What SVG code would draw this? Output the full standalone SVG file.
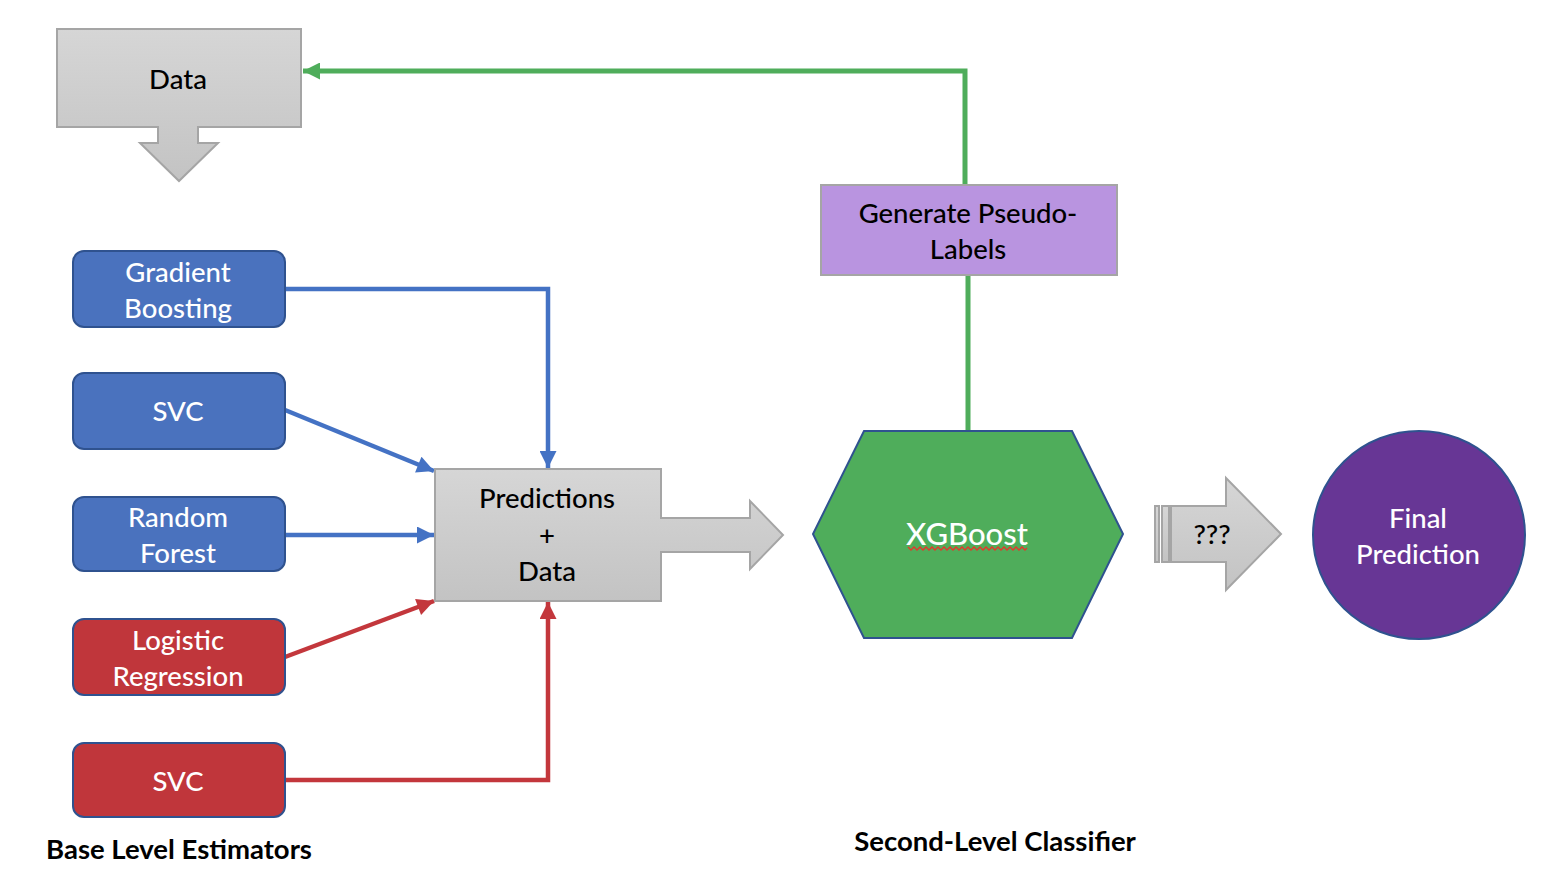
<svg xmlns="http://www.w3.org/2000/svg" width="1564" height="874" viewBox="0 0 1564 874">
<defs>
<linearGradient id="gray" x1="0" y1="0" x2="0" y2="1">
<stop offset="0" stop-color="#d6d6d6"/>
<stop offset="1" stop-color="#c3c3c3"/>
</linearGradient>
<marker id="ab" viewBox="0 0 10 10" refX="10" refY="5" markerWidth="18" markerHeight="17" markerUnits="userSpaceOnUse" orient="auto">
<path d="M0,0 L10,5 L0,10 z" fill="#4472c4"/>
</marker>
<marker id="ar" viewBox="0 0 10 10" refX="10" refY="5" markerWidth="18" markerHeight="17" markerUnits="userSpaceOnUse" orient="auto">
<path d="M0,0 L10,5 L0,10 z" fill="#c3373c"/>
</marker>
<marker id="ag" viewBox="0 0 10 10" refX="10" refY="5" markerWidth="18" markerHeight="17" markerUnits="userSpaceOnUse" orient="auto">
<path d="M0,0 L10,5 L0,10 z" fill="#4fad5b"/>
</marker>
</defs>
<style>
text{font-family:Lato,"Open Sans","Liberation Sans",sans-serif;text-anchor:middle;dominant-baseline:central}
.w{fill:#ffffff;font-size:27.5px;font-weight:500}
.k{fill:#000000;font-size:27.5px;font-weight:500}
.b{font-weight:bold;font-size:27.5px;fill:#000}
.blue{fill:#4a72be;stroke:#2f528f;stroke-width:2}
.red{fill:#c0363b;stroke:#2f528f;stroke-width:2}
.gr{fill:url(#gray);stroke:#a5a5a5;stroke-width:2}
.cb{fill:none;stroke:#4472c4;stroke-width:4.5}
.cr{fill:none;stroke:#c3373c;stroke-width:4.5}
.cg{fill:none;stroke:#4fad5b;stroke-width:5}
</style>
<rect width="1564" height="874" fill="#ffffff"/>
<g id="connectors">
<polyline class="cb" points="285,289 548,289 548,468" marker-end="url(#ab)"/>
<line class="cb" x1="285" y1="410" x2="434" y2="471" marker-end="url(#ab)"/>
<line class="cb" x1="285" y1="535" x2="434" y2="535" marker-end="url(#ab)"/>
<line class="cr" x1="285" y1="657" x2="434" y2="601" marker-end="url(#ar)"/>
<polyline class="cr" points="285,780 548,780 548,602" marker-end="url(#ar)"/>
<line class="cg" x1="968" y1="431" x2="968" y2="275"/>
<polyline class="cg" points="965,185 965,71 303,71" marker-end="url(#ag)"/>
</g>
<g id="data">
<path class="gr" d="M57,29 H301 V127 H198 V143 H218 L179,181 L140,143 H158 V127 H57 Z"/>
<text class="k" x="178" y="78">Data</text>
</g>
<g id="gradient-boosting">
<rect class="blue" x="73" y="251" width="212" height="76" rx="11"/>
<text class="w" x="178" y="271">Gradient</text>
<text class="w" x="178" y="307">Boosting</text>
</g>
<g id="svc-blue">
<rect class="blue" x="73" y="373" width="212" height="76" rx="11"/>
<text class="w" x="178" y="410">SVC</text>
</g>
<g id="random-forest">
<rect class="blue" x="73" y="497" width="212" height="74" rx="11"/>
<text class="w" x="178" y="516">Random</text>
<text class="w" x="178" y="552">Forest</text>
</g>
<g id="logistic-regression">
<rect class="red" x="73" y="619" width="212" height="76" rx="11"/>
<text class="w" x="178" y="639">Logistic</text>
<text class="w" x="178" y="675">Regression</text>
</g>
<g id="svc-red">
<rect class="red" x="73" y="743" width="212" height="74" rx="11"/>
<text class="w" x="178" y="780">SVC</text>
</g>
<g id="predictions">
<path class="gr" d="M435,469 H661 V518 H750 V501 L783,535 L750,569 V552 H661 V601 H435 Z"/>
<text class="k" x="547" y="497">Predictions</text>
<text class="k" x="547" y="534">+</text>
<text class="k" x="547" y="570">Data</text>
</g>
<g id="pseudo-labels">
<rect x="821" y="185" width="296" height="90" fill="#b994e0" stroke="#a5a5a5" stroke-width="2"/>
<text class="k" x="968" y="212">Generate Pseudo-</text>
<text class="k" x="968" y="248">Labels</text>
</g>
<g id="xgboost">
<polygon points="864,431 1072,431 1123,534 1072,638 864,638 813,534" fill="#4fad5b" stroke="#2f528f" stroke-width="2"/>
<text x="967" y="533" style="fill:#fff;font-size:31px;font-weight:500">XGBoost</text>
<polyline points="908,547 911,550 914,547 917,550 920,547 923,550 926,547 929,550 932,547 935,550 938,547 941,550 944,547 947,550 950,547 953,550 956,547 959,550 962,547 965,550 968,547 971,550 974,547 977,550 980,547 983,550 986,547 989,550 992,547 995,550 998,547 1001,550 1004,547 1007,550 1010,547 1013,550 1016,547 1019,550 1022,547 1025,550 1027,548" fill="none" stroke="#e8352a" stroke-width="1.3"/>
</g>
<g id="unknown-arrow">
<rect x="1155" y="506" width="4" height="56" class="gr" stroke-width="1"/>
<rect x="1162" y="506" width="7" height="56" class="gr" stroke-width="1"/>
<path class="gr" d="M1171,506 H1226 V478 L1281,534 L1226,590 V562 H1171 Z"/>
<text class="k" x="1212" y="533">???</text>
</g>
<g id="final-prediction">
<ellipse cx="1419" cy="535" rx="106" ry="104" fill="#673695" stroke="#2f528f" stroke-width="2"/>
<text class="w" x="1418" y="517">Final</text>
<text class="w" x="1418" y="553">Prediction</text>
</g>
<g id="labels">
<text class="b" x="179" y="848">Base Level Estimators</text>
<text class="b" x="995" y="840">Second-Level Classifier</text>
</g>
</svg>
